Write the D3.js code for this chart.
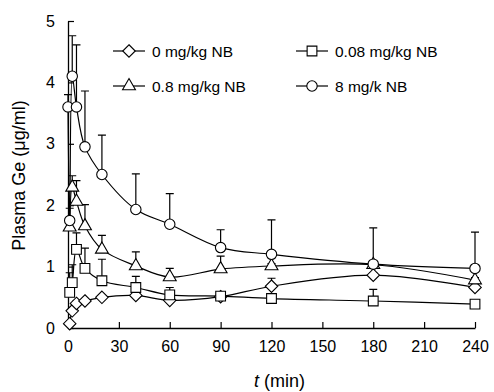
<!DOCTYPE html>
<html>
<head>
<meta charset="utf-8">
<script src="https://cdn.jsdelivr.net/npm/d3@7"></script>
<style>
  body { margin: 0; background: #fff; }
  text { font-family: "Liberation Sans", Arial, sans-serif; }
</style>
</head>
<body>
<div id="my_dataviz"></div>
<script>
// time points (min)
const times = [0, 1, 2.5, 5, 10, 20, 40, 60, 90, 120, 180, 240];

// mean plasma Ge per group (null = no sample)
const dose0   = [null, 0.07, 0.28, 0.40, 0.44, 0.50, 0.53, 0.45, 0.51, 0.68, 0.86, 0.66];
const dose008 = [null, 0.58, 0.74, 1.28, 0.97, 0.77, 0.66, 0.54, 0.52, 0.48, 0.44, 0.39];
const dose08  = [null, 1.64, 2.29, 2.06, 1.66, 1.28, 1.01, 0.83, 0.96, 1.01, 1.03, 0.78];
const dose8   = [3.60, 1.75, 4.10, 3.60, 2.95, 2.50, 1.93, 1.69, 1.31, 1.20, 1.04, 0.97];

// upper error bar tops
const err0   = [null, 0.10, 0.33, 0.44, 0.47, 0.52, 0.58, 0.50, 0.55, 0.81, 0.90, 0.72];
const err008 = [null, 0.90, 1.03, 1.55, 1.30, 1.12, 0.84, 0.66, 0.56, 0.52, 0.63, 0.42];
const err08  = [null, 1.75, 2.48, 2.40, 2.01, 1.51, 1.24, 0.97, 1.17, 1.05, 1.08, 0.82];
const err8   = [3.80, 1.95, 4.76, 4.61, 3.86, 3.14, 2.51, 2.19, 1.60, 1.76, 1.63, 1.56];

const labels = ["0 mg/kg NB", "0.08 mg/kg NB", "0.8 mg/kg NB", "8 mg/k NB"];
const xTicks = [0, 30, 60, 90, 120, 150, 180, 210, 240];
const yTicks = [0, 1, 2, 3, 4, 5];

const margin = {top: 21, right: 19, bottom: 64, left: 68},
    width = 494 - margin.left - margin.right,
    height = 392 - margin.top - margin.bottom;

const svg = d3.select("#my_dataviz")
  .append("svg")
    .attr("width", 494)
    .attr("height", 392)
  .append("g")
    .attr("transform", `translate(${margin.left}, ${margin.top})`);

const x = d3.scaleLinear().domain([0, 240]).range([0, width]);
const y = d3.scaleLinear().domain([0, 5]).range([height, 0]);

// X axis (ticks pointing inward)
const gx = svg.append("g")
  .attr("transform", `translate(0, ${height})`)
  .call(d3.axisBottom(x).tickValues(xTicks).tickSizeInner(-6).tickSizeOuter(0).tickPadding(13));
gx.selectAll("text").style("font-size", "16px").attr("fill", "#000");

// Y axis
const gy = svg.append("g")
  .call(d3.axisLeft(y).tickValues(yTicks).tickFormat(d3.format("d"))
    .tickSizeInner(-6).tickSizeOuter(0).tickPadding(13));
gy.selectAll("text").style("font-size", "16px").attr("fill", "#000");
svg.selectAll(".domain").attr("stroke", "#000").attr("stroke-width", 1.3);
svg.selectAll(".tick line").attr("stroke", "#000").attr("stroke-width", 1.2);

// axis titles
svg.append("text")
  .attr("transform", `translate(-43, ${height / 2 + 1}) rotate(-90)`)
  .attr("text-anchor", "middle")
  .style("font-size", "18px")
  .text("Plasma Ge (μg/ml)");

const xt = svg.append("text")
  .attr("x", width / 2 + 8)
  .attr("y", height + 59)
  .attr("text-anchor", "middle")
  .style("font-size", "18px");
xt.append("tspan").style("font-style", "italic").text("t");
xt.append("tspan").text(" (min)");

// square turned 45 degrees (equal width and height)
const symbolRhomb = {
  draw: function(ctx, size) {
    const r = Math.sqrt(size / 2);
    ctx.moveTo(0, -r);
    ctx.lineTo(r, 0);
    ctx.lineTo(0, r);
    ctx.lineTo(-r, 0);
    ctx.closePath();
  }
};

const series = [
  {vals: dose0, errs: err0, sym: symbolRhomb, size: 78},
  {vals: dose008, errs: err008, sym: d3.symbolSquare, size: 95},
  {vals: dose08, errs: err08, sym: d3.symbolTriangle, size: 72},
  {vals: dose8, errs: err8, sym: d3.symbolCircle, size: 85}
];

const line = d3.line()
  .defined(d => d.v != null)
  .x(d => x(d.t))
  .y(d => y(d.v))
  .curve(d3.curveCatmullRom.alpha(0.5));

series.forEach(function(s) {
  const pts = times.map((t, i) => ({t: t, v: s.vals[i], e: s.errs[i]}));
  const valid = pts.filter(d => d.v != null);

  // error bars
  svg.selectAll(null)
    .data(valid.filter(d => d.e != null && d.e > d.v))
    .enter()
    .append("path")
      .attr("d", d => `M${x(d.t)},${y(d.v)}V${y(d.e)}M${x(d.t) - 4},${y(d.e)}H${x(d.t) + 4}`)
      .attr("stroke", "#000")
      .attr("stroke-width", 1.2)
      .attr("fill", "none");

  svg.append("path")
    .datum(valid)
    .attr("d", line)
    .attr("fill", "none")
    .attr("stroke", "#000")
    .attr("stroke-width", 1.2);

  s.valid = valid;
});

// markers on top
series.forEach(function(s) {
  svg.selectAll(null)
    .data(s.valid)
    .enter()
    .append("path")
      .attr("transform", d => `translate(${x(d.t)}, ${y(d.v)})`)
      .attr("d", d3.symbol().type(s.sym).size(s.size))
      .attr("fill", "#fff")
      .attr("stroke", "#000")
      .attr("stroke-width", 1.1);
});

// legend
const legPos = [[45, 30], [228, 30], [45, 65], [228, 65]];
series.forEach(function(s, i) {
  const g = svg.append("g")
    .attr("transform", `translate(${legPos[i][0]}, ${legPos[i][1]})`);
  g.append("line")
    .attr("x1", 0).attr("x2", 32)
    .attr("stroke", "#000").attr("stroke-width", 1.2);
  g.append("path")
    .attr("transform", "translate(16, 0)")
    .attr("d", d3.symbol().type(s.sym).size(s.size))
    .attr("fill", "#fff")
    .attr("stroke", "#000")
    .attr("stroke-width", 1.1);
  g.append("text")
    .attr("x", 39)
    .attr("y", 5.5)
    .style("font-size", "15.5px")
    .text(labels[i]);
});
</script>
</body>
</html>
